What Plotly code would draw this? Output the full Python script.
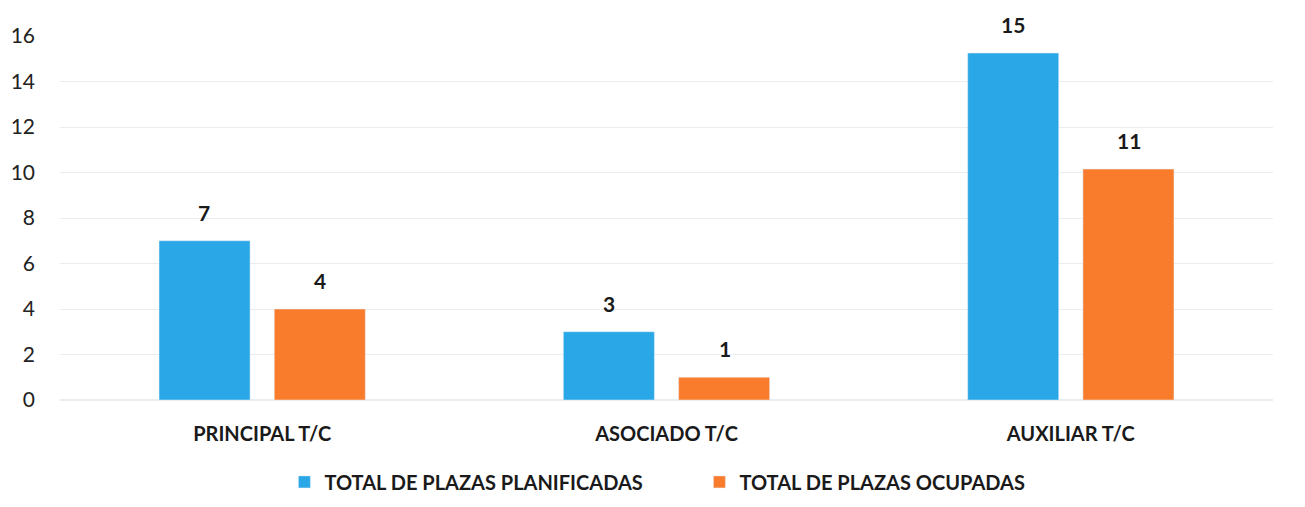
import plotly.graph_objects as go

categories = ["PRINCIPAL T/C", "ASOCIADO T/C", "AUXILIAR T/C"]
series_names = ["TOTAL DE PLAZAS PLANIFICADAS", "TOTAL DE PLAZAS OCUPADAS"]
planificadas = [7, 3, 15.25]
ocupadas = [4, 1.0, 10.15]
planificadas_labels = ["7", "3", "15"]
ocupadas_labels = ["4", "1", "11"]
y_ticks = [0, 2, 4, 6, 8, 10, 12, 14, 16]

BLUE = "#2AA7E6"
ORANGE = "#F97C2C"
FONT = "Lato, 'Open Sans', sans-serif"

fig = go.Figure()
fig.add_trace(go.Bar(x=categories, y=planificadas, name=series_names[0], marker_color=BLUE))
fig.add_trace(go.Bar(x=categories, y=ocupadas, name=series_names[1], marker_color=ORANGE))

for vals, labels, shift in [(planificadas, planificadas_labels, -58), (ocupadas, ocupadas_labels, 58)]:
    for c, v, t in zip(categories, vals, labels):
        fig.add_annotation(
            x=c, y=v, text=t, showarrow=False, xref="x", yref="y",
            xshift=shift, yshift=14, yanchor="bottom",
            font=dict(size=21, family=FONT, color="#1a1a1a", weight="bold"),
        )

fig.update_layout(
    width=1305, height=507,
    margin=dict(l=52, r=40, t=28, b=115),
    paper_bgcolor="white", plot_bgcolor="white",
    barmode="group", bargap=0.43, bargroupgap=0.21,
    font=dict(family=FONT, color="#222"),
    showlegend=True,
    legend=dict(
        orientation="h", x=0.185, xanchor="left", y=-0.225, yanchor="middle",
        font=dict(size=20, family=FONT, color="#1a1a1a", weight="bold"),
        itemwidth=30, tracegroupgap=0, entrywidth=370,
    ),
)
fig.update_yaxes(
    range=[0, 16], tickvals=y_ticks, showgrid=True, gridcolor="#E8EDF1",
    zeroline=True, zerolinecolor="#E8EDF1", showline=False, automargin=False,
    tickfont=dict(size=21, family=FONT, color="#222"), ticklabelstandoff=24,
)
fig.update_xaxes(
    showline=False, ticks="", automargin=False,
    tickfont=dict(size=20, family=FONT, color="#1a1a1a", weight="bold"),
    ticklabelstandoff=20,
)

fig.write_html("out.html")
